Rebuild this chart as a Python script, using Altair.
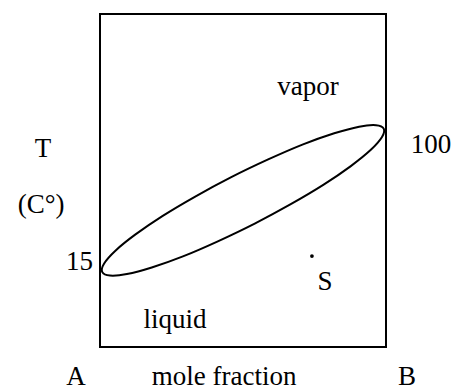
import altair as alt
import pandas as pd

# Two-phase envelope of the A-B mixture: dew (vapor) curve on top,
# bubble (liquid) curve underneath; both run between pure A and pure B.
dew_x = [0.008, 0.014, 0.053, 0.123, 0.218, 0.333, 0.459, 0.588, 0.710, 0.819, 0.906, 0.965, 0.992]
dew_t = [14.2, 19.3, 27.0, 36.8, 48.0, 59.8, 71.5, 82.2, 91.3, 98.0, 102.0, 102.9, 100.8]
bubble_x = [0.986, 0.947, 0.877, 0.782, 0.667, 0.541, 0.412, 0.290, 0.181, 0.094, 0.035]
bubble_t = [95.7, 88.0, 78.2, 67.0, 55.2, 43.5, 32.8, 23.7, 17.0, 13.0, 12.1]

# Labelled state point S
point_x = [0.741]
point_t = [23.9]

# Text labels and where they sit (mole fraction, temperature)
label_text = ["vapor", "liquid", "S", "15", "100", "T", "(C°)", "A", "mole fraction", "B"]
label_x = [0.727, 0.262, 0.787, -0.072, 1.157, -0.199, -0.206, -0.084, 0.434, 1.073]
label_t = [121.0, -19.5, 3.4, 15.5, 86.1, 83.7, 49.9, -53.9, -53.9, -53.9]

FONT = "Liberation Serif, Times New Roman, DejaVu Serif, serif"

env = pd.DataFrame({
    "x": dew_x + bubble_x,
    "t": dew_t + bubble_t,
    "i": list(range(len(dew_x) + len(bubble_x))),
})
pts = pd.DataFrame({"x": point_x, "t": point_t})
labels = pd.DataFrame({"label": label_text, "x": label_x, "t": label_t})

xs = alt.Scale(domain=[0, 1], nice=False, zero=False)
ys = alt.Scale(domain=[-31, 170], nice=False, zero=False)

envelope = alt.Chart(env).mark_line(
    interpolate="cardinal-closed", color="black", strokeWidth=2
).encode(
    x=alt.X("x:Q", scale=xs, axis=None),
    y=alt.Y("t:Q", scale=ys, axis=None),
    order=alt.Order("i:Q"),
)

dot = alt.Chart(pts).mark_circle(color="black", size=14, opacity=1).encode(
    x=alt.X("x:Q", scale=xs, axis=None),
    y=alt.Y("t:Q", scale=ys, axis=None),
)

text = alt.Chart(labels).mark_text(
    font=FONT, fontSize=27, color="black", align="center", baseline="alphabetic"
).encode(
    x=alt.X("x:Q", scale=xs, axis=None),
    y=alt.Y("t:Q", scale=ys, axis=None),
    text="label:N",
)

chart = alt.layer(envelope, dot, text).properties(
    width=286,
    height=333,
    autosize=alt.AutoSizeParams(type="none"),
    padding={"left": 100, "top": 14, "right": 68, "bottom": 44},
    background="white",
).configure_view(stroke="black", strokeWidth=2)

chart.save("out.html", embed_options={"renderer": "svg", "actions": False})
